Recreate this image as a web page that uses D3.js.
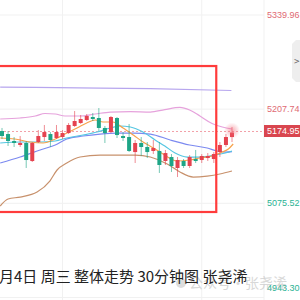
<!DOCTYPE html>
<html>
<head>
<meta charset="utf-8">
<script src="https://cdn.jsdelivr.net/npm/d3@7/dist/d3.min.js"></script>
<style>
  html, body { margin: 0; padding: 0; background: #fff; }
  #chart { width: 300px; height: 300px; overflow: hidden; }
</style>
</head>
<body>
<div id="chart"></div>
<script>
    // 30 minute candles, index 0..38 (older ones are off the left edge)
    var opens  = [5177.0, 5172.8, 5163.0, 5157.4, 5160.2, 5134.9, 5161.6, 5168.6, 5172.8, 5167.2,
                  5168.6, 5174.2, 5184.1, 5188.3, 5192.5, 5196.7, 5195.3, 5181.3, 5175.6, 5195.3,
                  5170.0, 5168.6, 5147.5, 5160.2, 5154.6, 5149.0, 5149.0, 5134.9, 5140.5, 5125.1,
                  5134.9, 5127.9, 5137.7, 5136.3, 5139.1, 5137.7, 5147.5, 5157.4, 5168.6];
    var highs  = [5181.3, 5177.0, 5168.6, 5170.0, 5163.0, 5161.6, 5178.4, 5185.5, 5175.6, 5185.5,
                  5178.4, 5188.3, 5205.1, 5199.5, 5200.9, 5202.3, 5209.3, 5184.1, 5198.1, 5196.7,
                  5175.6, 5186.9, 5164.4, 5168.6, 5161.6, 5164.4, 5161.6, 5150.4, 5144.7, 5140.5,
                  5137.7, 5143.3, 5150.4, 5144.7, 5146.1, 5147.5, 5161.6, 5172.8, 5182.7];
    var lows   = [5165.8, 5156.0, 5154.6, 5154.6, 5125.1, 5133.5, 5160.2, 5163.0, 5154.6, 5165.8,
                  5165.8, 5172.8, 5182.7, 5186.9, 5191.1, 5191.1, 5177.0, 5160.2, 5174.2, 5167.2,
                  5163.0, 5147.5, 5132.1, 5141.9, 5139.1, 5144.7, 5118.1, 5129.3, 5119.5, 5112.4,
                  5125.1, 5125.1, 5132.1, 5132.1, 5134.9, 5132.1, 5140.5, 5154.6, 5161.6];
    var closes = [5170.0, 5163.0, 5160.2, 5160.2, 5136.3, 5160.2, 5170.0, 5175.6, 5164.4, 5175.6,
                  5174.2, 5185.5, 5191.1, 5193.9, 5198.1, 5193.9, 5181.3, 5174.2, 5196.7, 5171.4,
                  5167.2, 5149.0, 5160.2, 5154.6, 5147.5, 5153.2, 5129.3, 5146.1, 5127.9, 5136.3,
                  5127.9, 5140.5, 5134.9, 5141.9, 5141.9, 5144.7, 5157.4, 5168.6, 5174.95];

    // indicator lines: [candle index, price]
    var maLong   = [[-0.3, 5238.8], [16.2, 5237.4], [24.5, 5236.5], [37.9, 5233.9]];
    var bollUp   = [[-0.3, 5193.9], [3, 5195.3], [5.5, 5198.1], [7.1, 5201.6], [8.8, 5200.9],
                    [10.4, 5198.1], [12.9, 5198.1], [15.4, 5200.9], [17.9, 5203.7], [21.2, 5204.4],
                    [24.5, 5203.7], [26.9, 5207.2], [29.4, 5210.1], [31, 5206.5], [32.7, 5198.1],
                    [34.7, 5187.6], [36.4, 5182.7], [38, 5179.9]];
    var bollMid  = [[-0.3, 5132.1], [3, 5140.5], [6.3, 5150.4], [8.8, 5157.4], [10.7, 5165.8],
                    [13.4, 5170.0], [16.2, 5172.8], [19, 5174.2], [21.7, 5174.2], [24.5, 5172.8],
                    [27.8, 5164.4], [31, 5157.4], [33.9, 5153.2], [35.5, 5149.0], [36.9, 5147.5],
                    [38, 5148.2]];
    var bollLow  = [[-0.3, 5071.7], [1, 5081.5], [3, 5084.3], [5.8, 5091.4], [7.9, 5106.8],
                    [9.1, 5122.3], [10.7, 5132.1], [12.9, 5140.5], [16.2, 5143.3], [19.5, 5143.3],
                    [22, 5143.3], [24.5, 5140.5], [27.3, 5130.7], [29.4, 5119.5], [31.6, 5112.4],
                    [33.9, 5113.8], [36, 5116.7], [38, 5120.9]];
    var ma5      = [[-0.3, 5167.2], [2.1, 5165.8], [4.6, 5161.6], [6.8, 5160.2], [8.8, 5165.8],
                    [10.7, 5174.2], [12.4, 5181.3], [14, 5188.3], [15.4, 5192.5], [16.7, 5189.7],
                    [18.3, 5189.7], [20, 5181.3], [21.7, 5171.4], [23.3, 5161.6], [25, 5153.2],
                    [26.6, 5144.7], [28.9, 5134.9], [31, 5136.3], [32.7, 5139.1], [34.7, 5141.9],
                    [36.4, 5147.5], [37.4, 5151.8], [38.2, 5158.8]];
    var ma10     = [[-0.3, 5160.2], [3, 5161.6], [6.3, 5161.6], [8.8, 5163.0], [10.7, 5167.2],
                    [13.4, 5171.4], [15.7, 5175.6], [17.9, 5181.3], [19.5, 5184.1], [21.2, 5182.7],
                    [23.3, 5175.6], [25.3, 5164.4], [26.9, 5156.0], [28.6, 5146.1], [30.6, 5140.5],
                    [32.7, 5140.5], [35.2, 5143.3], [36.9, 5146.1], [38, 5149.0]];

    var priceTicks = [5339.96, 5207.74, 5075.52, 4943.30];
    var lastPrice = 5174.95;
    var timeGrid = [10, 33];
    var boxArea = { i0: -0.6, i1: 35.4, top: 5268.3, bottom: 5063.3 };
    var caption = "月4日 周三 整体走势 30分钟图 张尧浠";
    var watermark = "公众号·张尧浠";

    var svg = d3.select("#chart")
                .append("svg")
                .attr("width", 300)
                .attr("height", 300)
                .style("font-family", "'Noto Sans CJK SC', sans-serif");

    var axisX = 264;

    var xScale = d3.scaleLinear()
                   .domain([0, 38])
                   .range([2, 232]);

    var yScale = d3.scaleLinear()
                   .domain([5075.52, 5339.96])
                   .range([203.3, 15]);

    // grid
    svg.append("g")
       .selectAll("line")
       .data(priceTicks)
       .enter()
       .append("line")
       .attr("x1", 0).attr("x2", axisX)
       .attr("y1", d => yScale(d)).attr("y2", d => yScale(d))
       .attr("stroke", "#f1f1f1");

    svg.append("g")
       .selectAll("line")
       .data(timeGrid)
       .enter()
       .append("line")
       .attr("x1", d => xScale(d)).attr("x2", d => xScale(d))
       .attr("y1", 0).attr("y2", 300)
       .attr("stroke", "#f1f1f1");

    svg.append("line")
       .attr("x1", axisX).attr("x2", axisX)
       .attr("y1", 0).attr("y2", 300)
       .attr("stroke", "#f1f1f1");

    // last price dashed line
    svg.append("line")
       .attr("x1", 0).attr("x2", axisX)
       .attr("y1", yScale(lastPrice) - 1).attr("y2", yScale(lastPrice) - 1)
       .attr("stroke", "#f2a0a8")
       .attr("stroke-dasharray", "2,2");

    var line = d3.line()
                 .curve(d3.curveMonotoneX)
                 .x(d => xScale(d[0]))
                 .y(d => yScale(d[1]));

    var lines = [
      { pts: maLong, color: "#b7a6ee" },
      { pts: bollUp, color: "#e6a2dc" },
      { pts: bollLow, color: "#c8916c" },
      { pts: bollMid, color: "#7c8af0" },
      { pts: ma10, color: "#55c6e2" },
      { pts: ma5, color: "#f7a24c" }
    ];

    lines.forEach(function(l) {
      svg.append("path")
         .datum(l.pts)
         .attr("fill", "none")
         .attr("stroke", l.color)
         .attr("stroke-width", 1.2)
         .attr("d", line);
    });

    // candles
    var candles = d3.range(opens.length).map(i => ({
      i: i, o: opens[i], h: highs[i], l: lows[i], c: closes[i]
    }));
    var up = "#e5424f", down = "#1ea586";

    var cg = svg.append("g");
    cg.selectAll("line")
      .data(candles)
      .enter()
      .append("line")
      .attr("x1", d => xScale(d.i)).attr("x2", d => xScale(d.i))
      .attr("y1", d => yScale(d.h)).attr("y2", d => yScale(d.l))
      .attr("stroke", d => d.c >= d.o ? up : down)
      .attr("stroke-opacity", 0.6)
      .attr("stroke-width", 1);

    cg.selectAll("rect")
      .data(candles)
      .enter()
      .append("rect")
      .attr("x", d => xScale(d.i) - 2)
      .attr("width", 4)
      .attr("y", d => yScale(Math.max(d.o, d.c)))
      .attr("height", d => Math.max(1, yScale(Math.min(d.o, d.c)) - yScale(Math.max(d.o, d.c))))
      .attr("fill", d => d.c >= d.o ? up : down);

    // glow on the last candle
    var grad = svg.append("defs").append("radialGradient").attr("id", "glow");
    grad.append("stop").attr("offset", "0%").attr("stop-color", "#f06a78").attr("stop-opacity", 0.55);
    grad.append("stop").attr("offset", "100%").attr("stop-color", "#f06a78").attr("stop-opacity", 0);
    svg.append("circle")
       .attr("cx", xScale(38))
       .attr("cy", yScale(lastPrice) - 2)
       .attr("r", 8)
       .attr("fill", "url(#glow)");

    // red annotation box
    svg.append("rect")
       .attr("x", xScale(boxArea.i0))
       .attr("y", yScale(boxArea.top))
       .attr("width", xScale(boxArea.i1) - xScale(boxArea.i0))
       .attr("height", yScale(boxArea.bottom) - yScale(boxArea.top))
       .attr("fill", "none")
       .attr("stroke", "#ff3c3c")
       .attr("stroke-width", 2.2);

    // price labels
    svg.append("g")
       .selectAll("text")
       .data(priceTicks)
       .enter()
       .append("text")
       .attr("x", 267)
       .attr("y", d => Math.min(yScale(d), 288))
       .attr("dy", "0.35em")
       .style("font-family", "'Liberation Sans', Arial, sans-serif")
       .style("font-size", "9px")
       .attr("fill", d => d > lastPrice ? "#e06a74" : "#2bb394")
       .text(d => d3.format(".2f")(d));

    svg.append("rect")
       .attr("x", axisX)
       .attr("y", yScale(lastPrice) - 7.5)
       .attr("width", 36)
       .attr("height", 12)
       .attr("fill", "#d9464f");
    svg.append("text")
       .attr("x", 267)
       .attr("y", yScale(lastPrice) - 1.5)
       .attr("dy", "0.35em")
       .style("font-family", "'Liberation Sans', Arial, sans-serif")
       .style("font-size", "9px")
       .attr("fill", "#fff")
       .text(d3.format(".2f")(lastPrice));

    // side tab
    svg.append("path")
       .attr("d", "M300,40 L296,40 L292,44 L292,78 L296,82 L300,82 Z")
       .attr("fill", "#eeeeee");
    svg.append("text")
       .attr("x", 294)
       .attr("y", 61)
       .attr("dy", "0.35em")
       .style("font-size", "10px")
       .attr("fill", "#666")
       .text(">");

    // watermark
    svg.append("circle")
       .attr("cx", 181).attr("cy", 283).attr("r", 5)
       .attr("fill", "#bbb").attr("opacity", 0.5);
    svg.append("text")
       .attr("x", 189)
       .attr("y", 288)
       .style("font-size", "14px")
       .attr("fill", "#aaa")
       .attr("opacity", 0.45)
       .text(watermark);

    svg.append("text")
       .attr("x", -1)
       .attr("y", 282)
       .style("font-size", "15px")
       .attr("fill", "#222")
       .text(caption);
</script>
</body>
</html>
